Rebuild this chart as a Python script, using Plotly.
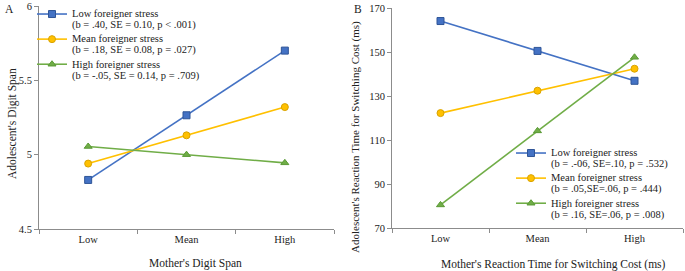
import plotly.graph_objects as go

categories = ["Low", "Mean", "High"]

# Panel A: Adolescent's Digit Span
a_low = [4.83, 5.265, 5.70]
a_mean = [4.94, 5.13, 5.32]
a_high = [5.055, 5.00, 4.945]
a_names = [
    ["Low foreigner stress", "(b = .40, SE = 0.10, p &lt; .001)"],
    ["Mean foreigner stress", "(b = .18, SE = 0.08, p = .027)"],
    ["High foreigner stress", "(b = -.05, SE = 0.14, p = .709)"],
]

# Panel B: Adolescent's Reaction Time for Switching Cost (ms)
b_low = [164.2, 150.6, 137.0]
b_mean = [122.3, 132.5, 142.5]
b_high = [80.5, 114.2, 147.7]
b_names = [
    ["Low foreigner stress", "(b = .-06, SE=.10, p = .532)"],
    ["Mean foreigner stress", "(b = .05,SE=.06, p = .444)"],
    ["High foreigner stress", "(b = .16, SE=.06, p = .008)"],
]

a_ticks = [4.5, 5, 5.5, 6]
a_ticktext = ["4.5", "5", "5.5", "6"]
b_ticks = [70, 90, 110, 130, 150, 170]

colors = ["#4472C4", "#FFC000", "#70AD47"]
edges = ["#2F5597", "#D9A300", "#5A9A35"]
symbols = ["square", "circle", "triangle-up"]
FONT = "Liberation Serif"
W, H = 685, 271
LEG_TXT = 10.5


def legend_name(lines):
    return "<br>".join(f'<span style="font-size:{LEG_TXT}px">{ln}</span>' for ln in lines)


fig = go.Figure()
for vals, name, c, e, s in zip([a_low, a_mean, a_high], a_names, colors, edges, symbols):
    fig.add_trace(go.Scatter(
        x=categories, y=vals, name=legend_name(name), mode="lines+markers",
        line=dict(color=c, width=1.6),
        marker=dict(symbol=s, size=7, color=c, line=dict(color=e, width=1)),
        xaxis="x", yaxis="y", legend="legend",
    ))
for vals, name, c, e, s in zip([b_low, b_mean, b_high], b_names, colors, edges, symbols):
    fig.add_trace(go.Scatter(
        x=categories, y=vals, name=legend_name(name), mode="lines+markers",
        line=dict(color=c, width=1.6),
        marker=dict(symbol=s, size=7, color=c, line=dict(color=e, width=1)),
        xaxis="x2", yaxis="y2", legend="legend2",
    ))

axis_common = dict(showgrid=False, zeroline=False, showline=True, linecolor="#8c8c8c",
                   linewidth=1, ticks="outside", tickcolor="#8c8c8c", ticklen=4,
                   automargin=False,
                   tickfont=dict(family=FONT, size=10.5, color="#222"))

ax_l, ax_r = 39 / W, 334 / W
bx_l, bx_r = 392 / W, 683 / W

legend_font = dict(family=FONT, size=8.5, color="#222")

fig.update_layout(
    width=W, height=H, margin=dict(l=0, r=0, t=0, b=0),
    paper_bgcolor="white", plot_bgcolor="white",
    font=dict(family=FONT, size=11, color="#222"),
    xaxis=dict(axis_common, domain=[ax_l, ax_r], type="category", tickson="boundaries",
               anchor="y", range=[-0.5, 2.5]),
    yaxis=dict(axis_common, domain=[(H - 229) / H, (H - 6) / H], range=[4.5, 6],
               tickvals=a_ticks, ticktext=a_ticktext, anchor="x"),
    xaxis2=dict(axis_common, domain=[bx_l, bx_r], type="category", tickson="boundaries",
                anchor="y2", range=[-0.5, 2.5]),
    yaxis2=dict(axis_common, domain=[(H - 228) / H, (H - 8.3) / H], range=[70, 170],
                tickvals=b_ticks, anchor="x2"),
    legend=dict(x=32 / W, y=1 - 2 / H, xanchor="left", yanchor="top",
                bgcolor="rgba(0,0,0,0)", font=legend_font,
                tracegroupgap=0, valign="top", itemwidth=30),
    legend2=dict(x=511 / W, y=1 - 141 / H, xanchor="left", yanchor="top",
                 bgcolor="rgba(0,0,0,0)", font=legend_font,
                 tracegroupgap=0, valign="top", itemwidth=30),
    showlegend=True,
)

ann_font = dict(family=FONT, size=11.5, color="#222")
fig.add_annotation(text="A", x=3 / W, y=1 - 1 / H, xref="paper", yref="paper",
                   xanchor="left", yanchor="top", showarrow=False, font=ann_font)
fig.add_annotation(text="B", x=352 / W, y=1 - 1 / H, xref="paper", yref="paper",
                   xanchor="left", yanchor="top", showarrow=False, font=ann_font)
fig.add_annotation(text="Adolescent's Digit Span", x=12 / W, y=1 - 124 / H,
                   xref="paper", yref="paper", textangle=-90, showarrow=False,
                   xanchor="center", yanchor="middle", font=ann_font)
fig.add_annotation(text="Adolescent's Reaction Time for Switching Cost (ms)", x=355 / W,
                   y=1 - 137 / H, xref="paper", yref="paper", textangle=-90,
                   xanchor="center", yanchor="middle",
                   showarrow=False, font=dict(ann_font, size=11))
fig.add_annotation(text="Mother's Digit Span", x=195 / W, y=1 - 263 / H,
                   xref="paper", yref="paper", showarrow=False,
                   xanchor="center", yanchor="middle", font=ann_font)
fig.add_annotation(text="Mother's Reaction Time for Switching Cost (ms)", x=553 / W,
                   y=1 - 264 / H, xref="paper", yref="paper", showarrow=False,
                   xanchor="center", yanchor="middle", font=ann_font)

fig.write_html("out.html", config={"displayModeBar": False},
               post_script="document.body.style.margin='0';")
